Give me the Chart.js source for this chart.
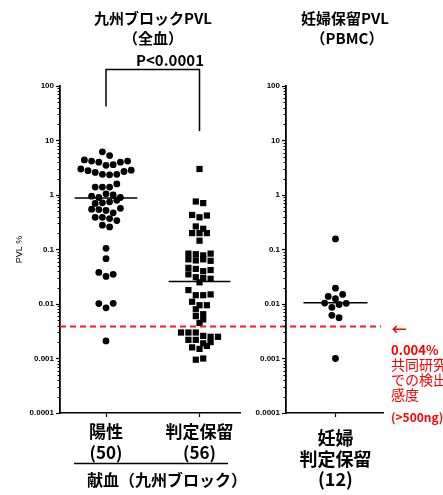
<!DOCTYPE html>
<html>
<head>
<meta charset="utf-8">
<script src="https://cdn.jsdelivr.net/npm/chart.js@4.4.1/dist/chart.umd.min.js"></script>
<style>
  html, body { margin: 0; padding: 0; background: #fff; }
  #wrap { position: relative; width: 443px; height: 495px; overflow: hidden; }
  canvas { position: absolute; top: 0; }
  #c1 { left: 0; }
  #c2 { left: 245px; }
</style>
</head>
<body>
<div id="wrap">
  <canvas id="c1" width="443" height="495"></canvas>
  <canvas id="c2" width="198" height="495"></canvas>
</div>
<script>
// ---------- DATA ----------
const leftCategories = [['陽性', '(50)'], ['判定保留', '(56)']];
const rightCategories = [['妊婦', '判定保留', '(12)']];

const positiveValues = [6.2, 5.3, 4.4, 4.2, 4.0, 3.5, 3.6, 4.0, 4.2,
  3.0, 2.8, 2.6, 2.4, 2.35, 2.4, 2.7, 2.85,
  1.4, 1.4, 1.4, 1.6, 0.95, 0.9, 1.05, 1.0, 0.9,
  0.7, 0.72, 0.75, 0.8, 0.55, 0.54, 0.52, 0.47, 0.57,
  0.39, 0.39, 0.37, 0.34, 0.28, 0.26,
  0.105, 0.068, 0.038, 0.032, 0.035, 0.0102, 0.0085, 0.0103, 0.0021];

const pendingValues = [3.0, 0.76, 0.71, 0.43, 0.39, 0.42, 0.265, 0.2, 0.2, 0.2, 0.24, 0.145,
  0.084, 0.082, 0.078, 0.084, 0.066, 0.063, 0.066, 0.062, 0.046, 0.044, 0.04, 0.042,
  0.035, 0.031, 0.03, 0.029,
  0.025, 0.018, 0.0145, 0.0145, 0.015, 0.011, 0.0095, 0.0095, 0.008, 0.0065, 0.006, 0.0052,
  0.0045, 0.003, 0.003, 0.003, 0.0026, 0.0025, 0.0022, 0.0022, 0.0025, 0.0019,
  0.0016, 0.0015, 0.0017, 0.002, 0.00095, 0.001];

const pregnantValues = [0.156, 0.0195, 0.0138, 0.0125, 0.015, 0.0104, 0.0087, 0.0098,
  0.0103, 0.0062, 0.0056, 0.001];

const medians = [0.88, 0.026, 0.0105];
const cutoffValue = 0.004;
const bracketLegEnds = [42, 15];
const bracketTopValue = 200;

const yTickValues = [0.0001, 0.001, 0.01, 0.1, 1, 10, 100];
const yTickLabels = ['0.0001', '0.001', '0.01', '0.1', '1', '10', '100'];
const yMinorMultipliers = [2, 3, 4, 5, 6, 7, 8, 9];

// ---------- HELPERS ----------
const JP = '"Noto Sans CJK JP", "Noto Sans", sans-serif';
const AR = '"Liberation Sans", Arial, sans-serif';

function isDecade(v) { return yTickValues.some(t => Math.abs(Math.log10(v) - Math.log10(t)) < 1e-6); }
function allYTicks() {
  const out = [];
  for (let i = 0; i < yTickValues.length; i++) {
    out.push(yTickValues[i]);
    if (i < yTickValues.length - 1) yMinorMultipliers.forEach(m => out.push(+(m * yTickValues[i]).toPrecision(6)));
  }
  return out;
}
function yLabel(v) {
  const i = yTickValues.findIndex(t => Math.abs(Math.log10(v) - Math.log10(t)) < 1e-6);
  return i >= 0 ? yTickLabels[i] : '';
}

const minorTicksPlugin = {
  id: 'minorTicks',
  afterDraw(chart) {
    const ys = chart.scales.y, ctx = chart.ctx;
    const x = chart.chartArea.left;
    ctx.save();
    ctx.strokeStyle = '#000';
    ctx.lineWidth = 1;
    allYTicks().filter(v => !isDecade(v)).forEach(v => {
      const py = Math.round(ys.getPixelForValue(v)) + 0.5;
      ctx.beginPath(); ctx.moveTo(x - 2.5, py); ctx.lineTo(x, py); ctx.stroke();
    });
    ctx.restore();
  }
};

function yScaleOptions(width, withTitle) {
  return {
    type: 'logarithmic', min: 0.0001, max: 100,
    afterFit: s => { s.width = width; },
    afterBuildTicks: s => { s.ticks = allYTicks().map(v => ({ value: v, major: isDecade(v) })); },
    ticks: {
      autoSkip: false, padding: 2, color: '#000',
      font: { family: AR, size: 8, weight: 'bold' },
      callback: v => yLabel(v)
    },
    grid: {
      drawOnChartArea: false, tickLength: 4, tickWidth: 1.2,
      tickColor: c => (c.tick && isDecade(c.tick.value)) ? '#000' : 'rgba(0,0,0,0)'
    },
    border: { color: '#000', width: 1.8 },
    title: { display: withTitle, text: 'PVL %', color: '#000', font: { family: AR, size: 9 }, padding: { top: 4, bottom: 0 } }
  };
}

function xScaleOptions(min, max, cats, pad, fontSize, lh) {
  return {
    type: 'linear', min: min, max: max,
    afterFit: s => { s.height = 82; },
    afterBuildTicks: s => { s.ticks = cats.map((c, i) => ({ value: i })); },
    ticks: {
      autoSkip: false, maxRotation: 0, minRotation: 0, padding: pad, color: '#000',
      font: { family: JP, size: fontSize, weight: 'bold', lineHeight: lh },
      callback: v => cats[Math.round(v)] || ''
    },
    grid: { drawOnChartArea: false, tickLength: 4, tickWidth: 1.2, tickColor: '#000' },
    border: { color: '#000', width: 1.5 }
  };
}

function pointsDataset(values, cat, style, radius) {
  return {
    type: 'scatter',
    data: values.map(v => ({ x: cat, y: v })),
    pointStyle: style, pointRadius: radius, pointHoverRadius: radius,
    backgroundColor: '#000', borderColor: '#000', borderWidth: 0
  };
}
function medianDataset(value, cat, half) {
  return {
    type: 'scatter', showLine: true,
    data: [{ x: cat - half, y: value }, { x: cat + half, y: value }],
    borderColor: '#000', borderWidth: 1.5, pointRadius: 0, pointHoverRadius: 0
  };
}

// Prism-like row layout: points whose pixel y lies within `band` of a row's top point share a row,
// and are spread side by side (in data order) with spacing D.
function rowOffsets(values, ys, D, band) {
  const out = new Array(values.length);
  const order = values.map((v, i) => i).sort((a, b) => values[b] - values[a]);
  let row = [], rowY = null;
  const flush = () => {
    row.sort((a, b) => a - b);
    row.forEach((idx, k) => { out[idx] = (k - (row.length - 1) / 2) * D; });
    row = [];
  };
  for (const i of order) {
    const y = ys.getPixelForValue(values[i]);
    if (rowY === null || y - rowY >= band) { if (row.length) flush(); rowY = y; }
    row.push(i);
  }
  if (row.length) flush();
  return out;
}
function applyRows(chart, dsIndex, values, cat, D, band) {
  const xs = chart.scales.x, ys = chart.scales.y;
  const offs = rowOffsets(values, ys, D, band);
  const base = xs.getPixelForValue(cat);
  chart.data.datasets[dsIndex].data = values.map((v, i) => ({ x: xs.getValueForPixel(base + offs[i]), y: v }));
}

function text(ctx, str, x, y, font, color, align) {
  ctx.font = font; ctx.fillStyle = color || '#000';
  ctx.textAlign = align || 'center'; ctx.textBaseline = 'middle';
  ctx.fillText(str, x, y);
}

const decorPlugin = {
  id: 'decor',
  afterDatasetsDraw(chart) {
    const ctx = chart.ctx, xs = chart.scales.x, ys = chart.scales.y;
    ctx.save();
    // cutoff dashed line
    const cy = Math.round(ys.getPixelForValue(cutoffValue)) + 0.5;
    ctx.strokeStyle = '#ff1a1a'; ctx.lineWidth = 1.8; ctx.setLineDash([6, 4]);
    ctx.beginPath(); ctx.moveTo(chart.chartArea.left, cy); ctx.lineTo(381, cy); ctx.stroke();
    ctx.setLineDash([]);
    // bracket
    const x0 = xs.getPixelForValue(0), x1 = xs.getPixelForValue(1);
    const yt = ys.getPixelForValue(bracketTopValue);
    ctx.strokeStyle = '#000'; ctx.lineWidth = 1.5;
    ctx.beginPath();
    ctx.moveTo(x0, ys.getPixelForValue(bracketLegEnds[0]));
    ctx.lineTo(x0, yt); ctx.lineTo(x1, yt);
    ctx.lineTo(x1, ys.getPixelForValue(bracketLegEnds[1]));
    ctx.stroke();
    // titles
    text(ctx, '九州ブロックPVL', 153, 18, 'bold 15px ' + JP);
    text(ctx, '（全血）', 153, 38, 'bold 15px ' + JP);
    text(ctx, 'P<0.0001', 170, 60, 'bold 15px ' + JP);
    text(ctx, '妊婦保留PVL', 345, 18, 'bold 15px ' + JP);
    text(ctx, '（PBMC）', 347, 38, 'bold 15px ' + JP);
    // bottom group label
    ctx.strokeStyle = '#000'; ctx.lineWidth = 1.5;
    ctx.beginPath(); ctx.moveTo(74, 463.5); ctx.lineTo(228, 463.5); ctx.stroke();
    text(ctx, '献血（九州ブロック）', 167, 480, 'bold 16px ' + JP);
    // red annotation
    const red = '#ff0000';
    text(ctx, '←', 399, 329, 'bold 15px ' + JP, red);
    text(ctx, '0.004%', 391, 350, 'bold 13px ' + JP, red, 'left');
    text(ctx, '共同研究', 391, 365, '14px ' + JP, red, 'left');
    text(ctx, 'での検出', 391, 380, '14px ' + JP, red, 'left');
    text(ctx, '感度', 391, 395, '14px ' + JP, red, 'left');
    text(ctx, '(>500ng)', 391, 417, 'bold 12px ' + JP, red, 'left');
    ctx.restore();
  }
};

const common = {
  responsive: false, animation: false, devicePixelRatio: 1,
  plugins: { legend: { display: false }, tooltip: { enabled: false }, title: { display: false } }
};

// ---------- LEFT CHART ----------
const left = new Chart(document.getElementById('c1'), {
  type: 'scatter',
  data: {
    datasets: [
      pointsDataset(positiveValues, 0, 'circle', 3.4),
      pointsDataset(pendingValues, 1, 'rect', 4.4),
      medianDataset(medians[0], 0, 0.335),
      medianDataset(medians[1], 1, 0.33)
    ]
  },
  options: Object.assign({}, common, {
    layout: { padding: { left: 10, top: 86, right: 203, bottom: 0 } },
    scales: {
      x: xScaleOptions(-0.492, 1.433, leftCategories, 4, 17, '21px'),
      y: yScaleOptions(50, true)
    }
  }),
  plugins: [minorTicksPlugin, decorPlugin]
});
applyRows(left, 0, positiveValues, 0, 7.2, 6);
applyRows(left, 1, pendingValues, 1, 7.4, 5.3);
left.update('none');

// ---------- RIGHT CHART ----------
const right = new Chart(document.getElementById('c2'), {
  type: 'scatter',
  data: {
    datasets: [
      pointsDataset(pregnantValues, 0, 'circle', 3.4),
      medianDataset(medians[2], 0, 0.33)
    ]
  },
  options: Object.assign({}, common, {
    layout: { padding: { left: 6, top: 86, right: 60, bottom: 0 } },
    scales: {
      x: xScaleOptions(-0.51, 0.49, rightCategories, 11, 18, '20.5px'),
      y: yScaleOptions(35, false)
    }
  }),
  plugins: [minorTicksPlugin]
});
applyRows(right, 0, pregnantValues, 0, 7.2, 6);
right.update('none');
</script>
</body>
</html>
